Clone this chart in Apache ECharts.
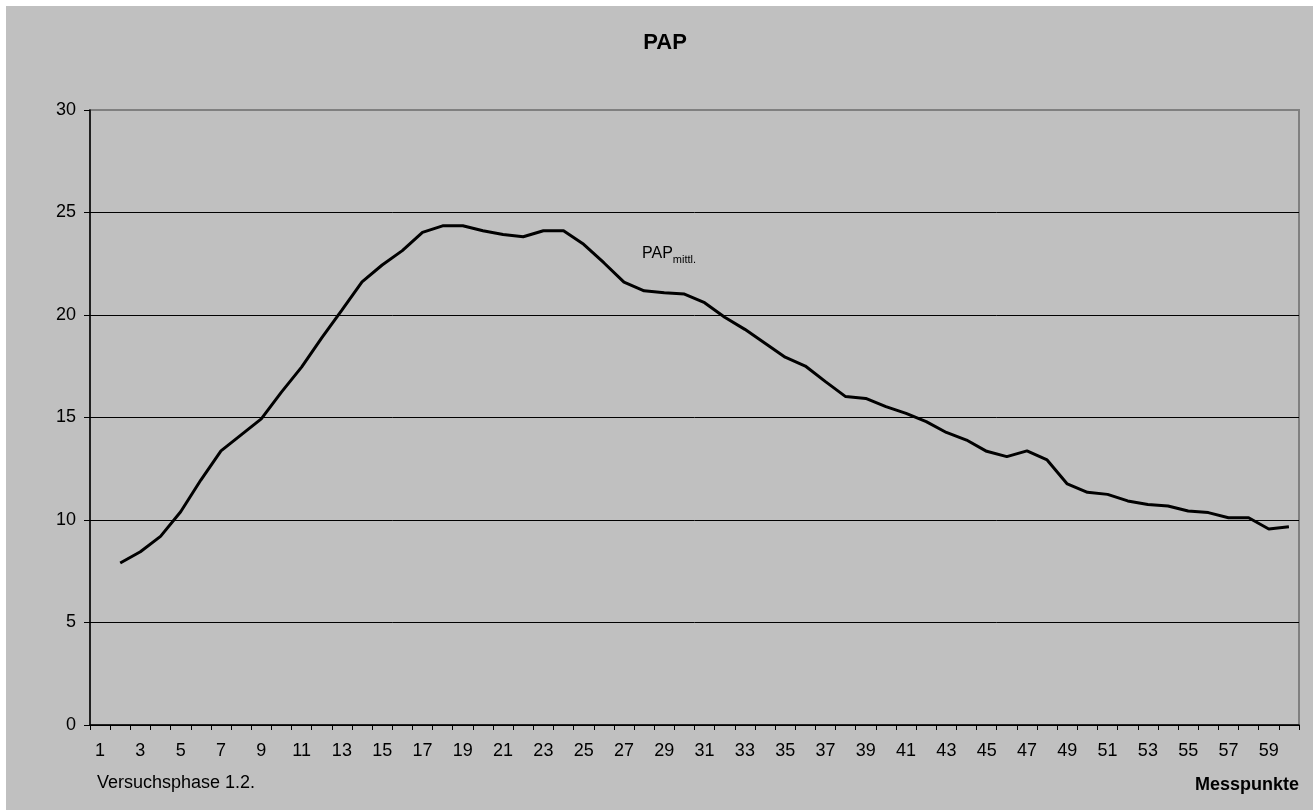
<!DOCTYPE html>
<html>
<head>
<meta charset="utf-8">
<title>PAP</title>
<script src="https://cdn.jsdelivr.net/npm/echarts@6/dist/echarts.min.js"></script>
<style>
  html, body { margin: 0; padding: 0; background: #ffffff; }
  #chart { width: 1313px; height: 810px; }
</style>
</head>
<body>
<div id="chart"></div>
<script>
// Measurement points 1..60
const categories = Array.from({ length: 60 }, (_, i) => String(i + 1));

// Mean pulmonary arterial pressure per measurement point (no value at point 1)
const papMittl = [
  null, 7.9, 8.45, 9.2, 10.4, 11.95, 13.37, 14.15, 14.93, 16.24,
  17.46, 18.88, 20.24, 21.62, 22.44, 23.14, 24.03, 24.35, 24.35, 24.11,
  23.93, 23.82, 24.11, 24.11, 23.45, 22.55, 21.6, 21.18, 21.09, 21.02,
  20.6, 19.89, 19.3, 18.62, 17.94, 17.51, 16.75, 16.02, 15.93, 15.53,
  15.2, 14.8, 14.27, 13.9, 13.35, 13.09, 13.37, 12.93, 11.76, 11.35,
  11.25, 10.93, 10.76, 10.68, 10.44, 10.36, 10.11, 10.11, 9.56, 9.67
];

const yTicks = { min: 0, max: 30, interval: 5 };

const FONT = "'Liberation Sans', Arial, sans-serif";

const chart = echarts.init(document.getElementById('chart'), null, { renderer: 'canvas' });

chart.setOption({
  backgroundColor: '#ffffff',
  animation: false,
  textStyle: { fontFamily: FONT, color: '#000' },
  title: {
    text: 'PAP',
    left: 660,
    top: 27,
    textAlign: 'center',
    textStyle: { fontFamily: FONT, fontSize: 22, fontWeight: 'bold', color: '#000' }
  },
  graphic: [
    {
      type: 'rect',
      z: -10,
      silent: true,
      shape: { x: 6, y: 6, width: 1307, height: 804 },
      style: { fill: '#c0c0c0' }
    },
    {
      type: 'text',
      left: 97,
      top: 774,
      style: { text: 'Versuchsphase 1.2.', font: '18px ' + FONT, fill: '#000' }
    },
    {
      type: 'text',
      right: 14,
      top: 776,
      style: { text: 'Messpunkte', font: 'bold 18px ' + FONT, fill: '#000' }
    },
    {
      type: 'text',
      left: 642,
      top: 246,
      style: {
        text: '{a|PAP}{b|mittl.}',
        rich: {
          a: { fontFamily: FONT, fontSize: 16, color: '#000', verticalAlign: 'bottom', lineHeight: 16 },
          b: { fontFamily: FONT, fontSize: 11, color: '#000', verticalAlign: 'bottom', lineHeight: 16, padding: [0, 0, -3, 0] }
        }
      }
    }
  ],
  grid: {
    left: 90,
    top: 110,
    right: 14,
    bottom: 85,
    show: true,
    backgroundColor: 'transparent',
    borderColor: '#808080',
    borderWidth: 2
  },
  xAxis: {
    type: 'category',
    data: categories,
    boundaryGap: true,
    axisLine: { show: true, lineStyle: { color: '#000', width: 1.5 } },
    axisTick: { show: true, interval: 0, length: 5, lineStyle: { color: '#000' } },
    axisLabel: { interval: 1, margin: 17, fontSize: 18, fontFamily: FONT, color: '#000' },
    splitLine: { show: false }
  },
  yAxis: {
    type: 'value',
    min: yTicks.min,
    max: yTicks.max,
    interval: yTicks.interval,
    axisLine: { show: true, lineStyle: { color: '#000', width: 1.5 } },
    axisTick: { show: true, length: 6, lineStyle: { color: '#000' } },
    axisLabel: { margin: 14, fontSize: 18, fontFamily: FONT, color: '#000' },
    splitLine: {
      show: true,
      // inner gridlines black, the top edge stays the grey frame colour
      lineStyle: { color: ['#000', '#000', '#000', '#000', '#000', '#000', '#808080'], width: 1 }
    }
  },
  series: [
    {
      name: 'PAP mittl.',
      type: 'line',
      data: papMittl,
      symbol: 'none',
      connectNulls: false,
      lineStyle: { color: '#000', width: 3 },
      z: 5
    }
  ]
});
</script>
</body>
</html>
